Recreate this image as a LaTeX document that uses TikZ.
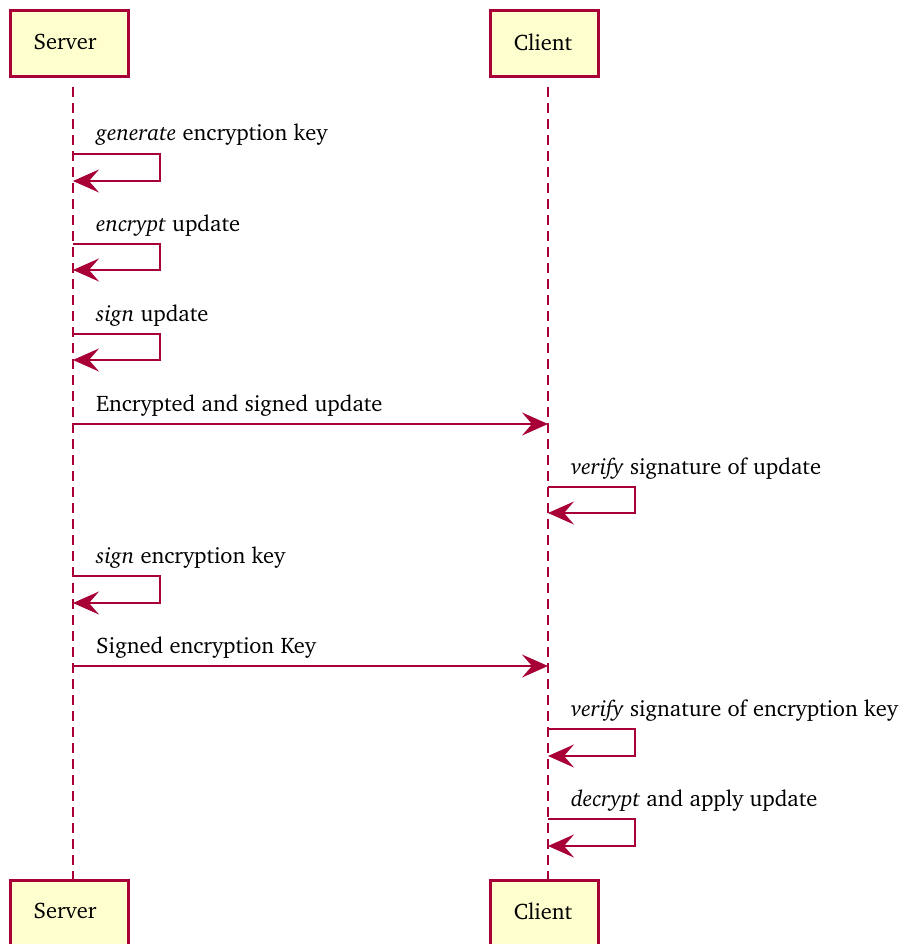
\documentclass[tikz,border=0pt]{standalone}
\usepackage[T1]{fontenc}
\renewcommand{\rmdefault}{bch}
\usetikzlibrary{arrows.meta}
\definecolor{umlred}{HTML}{A80036}
\definecolor{umlfill}{HTML}{FEFECE}
\tikzset{
  actorbox/.style={draw=umlred, fill=umlfill, line width=3pt,
    minimum height=66pt, inner sep=0pt},
  lifeline/.style={draw=umlred, line width=2.4pt, dash pattern=on 10pt off 6pt},
  msg/.style={draw=umlred, line width=1.6pt,
    -{Stealth[length=26pt, width=23pt, inset=10pt, fill=umlred]}},
  lbl/.style={anchor=base west, inner sep=0pt, font=\fontsize{22.5}{27}\selectfont},
}
\begin{document}
\begin{tikzpicture}[x=1pt, y=-1pt]
\useasboundingbox (0,0) rectangle (901,944);

% participants, top and bottom
\node[actorbox, minimum width=118pt] (srvTop) at (69,44) {};
\node[actorbox, minimum width=108pt] (cliTop) at (544,44) {};
\node[actorbox, minimum width=118pt] (srvBot) at (69,913) {};
\node[actorbox, minimum width=108pt] (cliBot) at (544,913) {};
\node[lbl, anchor=base] (srvTopT) at (65,50) {Server};
\node[lbl, anchor=base] (cliTopT) at (543,51) {Client};
\node[lbl, anchor=base] (srvBotT) at (65,918) {Server};
\node[lbl, anchor=base] (cliBotT) at (543,919) {Client};

% lifelines
\coordinate (sL0) at (73,87);
\coordinate (sL1) at (73,880);
\coordinate (cL0) at (548,87);
\coordinate (cL1) at (548,880);
\draw[lifeline] (sL0) -- (sL1);
\draw[lifeline] (cL0) -- (cL1);

% self messages on the server
\coordinate (m1a) at (73,154); \coordinate (m1b) at (73,181);
\draw[msg] (m1a) -- ++(87,0) |- (m1b);
\node[lbl] (t1) at (96,141) {\textit{generate} encryption key};

\coordinate (m2a) at (73,244); \coordinate (m2b) at (73,270);
\draw[msg] (m2a) -- ++(87,0) |- (m2b);
\node[lbl] (t2) at (96,231) {\textit{encrypt} update};

\coordinate (m3a) at (73,334); \coordinate (m3b) at (73,360);
\draw[msg] (m3a) -- ++(87,0) |- (m3b);
\node[lbl] (t3) at (96,321) {\textit{sign} update};

% server to client
\coordinate (m4a) at (73,424); \coordinate (m4b) at (548,424);
\draw[msg] (m4a) -- (m4b);
\node[lbl] (t4) at (96,411) {Encrypted and signed update};

% self messages on the client
\coordinate (m5a) at (548,487); \coordinate (m5b) at (548,513);
\draw[msg] (m5a) -- ++(87,0) |- (m5b);
\node[lbl] (t5) at (571,474) {\textit{verify} signature of update};

\coordinate (m6a) at (73,576); \coordinate (m6b) at (73,603);
\draw[msg] (m6a) -- ++(87,0) |- (m6b);
\node[lbl] (t6) at (96,563) {\textit{sign} encryption key};

\coordinate (m7a) at (73,666); \coordinate (m7b) at (548,666);
\draw[msg] (m7a) -- (m7b);
\node[lbl] (t7) at (96,653) {Signed encryption Key};

\coordinate (m8a) at (548,729); \coordinate (m8b) at (548,756);
\draw[msg] (m8a) -- ++(87,0) |- (m8b);
\node[lbl] (t8) at (571,716) {\textit{verify} signature of encryption key};

\coordinate (m9a) at (548,819); \coordinate (m9b) at (548,846);
\draw[msg] (m9a) -- ++(87,0) |- (m9b);
\node[lbl] (t9) at (571,806) {\textit{decrypt} and apply update};
\end{tikzpicture}
\end{document}
